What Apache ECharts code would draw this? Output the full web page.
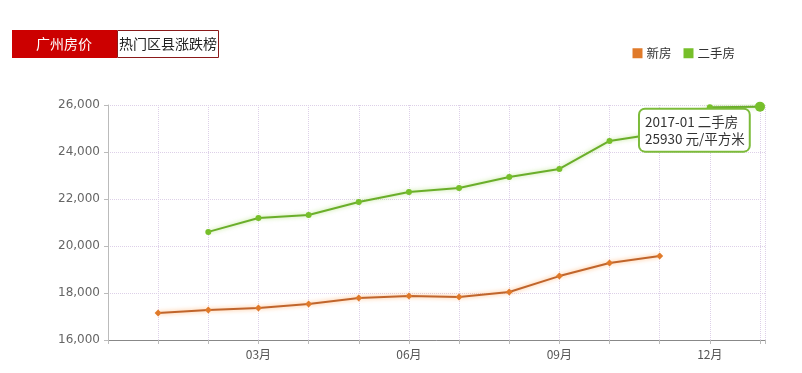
<!DOCTYPE html>
<html><head><meta charset="utf-8">
<script src="https://cdn.jsdelivr.net/npm/echarts@6/dist/echarts.min.js"></script>
<style>html,body{margin:0;padding:0;background:#fff}#c{width:802px;height:373px}</style>
</head><body><div id="c"></div>
<script>
var months = [1,2,3,4,5,6,7,8,9,10,11,12,13];
var monthLabels = {3:'03月',6:'06月',9:'09月',12:'12月'};
var newHouse = [17150,17280,17360,17530,17790,17870,17830,18040,18720,19280,19570,null,null];
var secondHand = [null,20600,21190,21320,21870,22300,22470,22940,23280,24470,24800,25900,25930];
var yTicks = {min:16000,max:26000,interval:2000};
var tipText = ['2017-01 二手房','25930 元/平方米'];

function pairs(vals){
  var out=[];
  for(var i=0;i<months.length;i++){ if(vals[i]!=null) out.push([months[i],vals[i]]); }
  return out;
}
var shData = pairs(secondHand);
var last = shData[shData.length-1];
shData[shData.length-1] = {
  value:last, symbolSize:10,
  label:{show:true, position:[-115,8], formatter:tipText.join('\n'),
    backgroundColor:'#fff', borderColor:'#7cbb3a', borderWidth:2, borderRadius:5,
    padding:[4,4,3,5], color:'#333', fontSize:13.5, lineHeight:17,
    fontFamily:'"Noto Sans CJK SC", sans-serif'}
};

var chart = echarts.init(document.getElementById('c'));
chart.setOption({
  animation:false,
  backgroundColor:'#fff',
  textStyle:{fontFamily:'"Noto Sans CJK SC", "Open Sans", sans-serif'},
  graphic:[
    {type:'rect', shape:{x:12,y:30,width:105,height:28}, style:{fill:'#cc0000'}},
    {type:'rect', shape:{x:117.5,y:30.5,width:101,height:27}, style:{fill:'#fff',stroke:'#8b1a1a',lineWidth:1}},
    {type:'text', x:64, y:44, style:{text:'广州房价', fill:'#fff', font:'14px "Noto Sans CJK SC"', textAlign:'center', textVerticalAlign:'middle'}},
    {type:'text', x:168, y:44, style:{text:'热门区县涨跌榜', fill:'#222', font:'14px "Noto Sans CJK SC"', textAlign:'center', textVerticalAlign:'middle'}}
  ],
  legend:{
    right:62, top:42, itemWidth:10, itemHeight:10, itemGap:12,
    icon:'rect',
    textStyle:{color:'#333', fontSize:12.5, padding:[0,0,0,-1]},
    data:['新房','二手房']
  },
  grid:{left:108, right:37, top:105, bottom:33},
  xAxis:{
    type:'value', min:0, max:13.1, interval:1,
    axisLine:{lineStyle:{color:'#888'}},
    axisTick:{show:true, length:4, lineStyle:{color:'#bbb'}},
    axisLabel:{color:'#555', fontSize:12, margin:8, formatter:function(v){return monthLabels[v]||'';}},
    splitLine:{show:true, lineStyle:{color:'#ddd0e8', type:'dotted'}}
  },
  yAxis:{
    type:'value', min:yTicks.min, max:yTicks.max, interval:yTicks.interval,
    axisLine:{show:true, lineStyle:{color:'#bbb'}},
    axisTick:{show:true, length:4, lineStyle:{color:'#bbb'}},
    axisLabel:{color:'#666', fontSize:12, margin:8, fontFamily:'"DejaVu Sans", sans-serif', formatter:function(v){return v.toLocaleString('en-US');}},
    splitLine:{show:true, lineStyle:{color:'#ddd0e8', type:'dotted'}}
  },
  series:[
    {name:'新房', type:'line', data:pairs(newHouse), color:'#e46c17',
     symbol:'diamond', symbolSize:7,
     lineStyle:{width:2, color:'#c0652c', shadowColor:'rgba(255,150,60,0.7)', shadowBlur:4},
     itemStyle:{color:'#e07a2a'}},
    {name:'二手房', type:'line', data:shData, color:'#7dc21f',
     symbol:'circle', symbolSize:6,
     lineStyle:{width:2, color:'#6aae2a', shadowColor:'rgba(140,210,60,0.6)', shadowBlur:4},
     itemStyle:{color:'#76bf2a'}, z:3}
  ]
});
</script></body></html>
